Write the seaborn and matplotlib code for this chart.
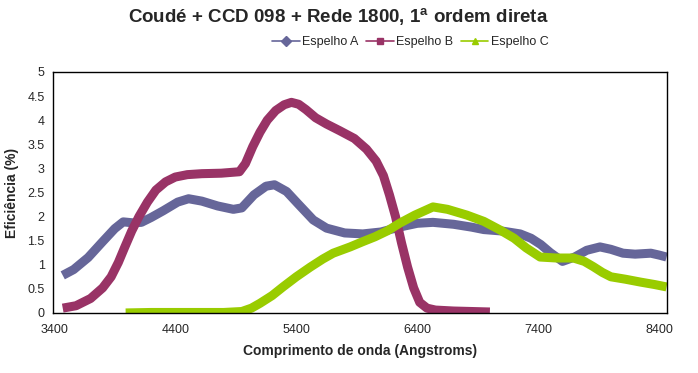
"""Grating efficiency curves: Coudé + CCD 098 + Rede 1800."""

import matplotlib.pyplot as plt
import pandas as pd
import seaborn as sns
from matplotlib.lines import Line2D

# Espelho A
wl_a = [3470, 3560, 3680, 3800, 3900, 3970, 4050, 4120, 4200, 4300, 4420, 4510,
        4620, 4750, 4880, 4950, 5050, 5150, 5220, 5320, 5420, 5540, 5650, 5800,
        5950, 6100, 6250, 6400, 6530, 6700, 6850, 6950, 7100, 7250, 7340, 7420,
        7500, 7600, 7700, 7800, 7910, 8000, 8100, 8200, 8330, 8400, 8460]
eff_a = [0.78, 0.90, 1.15, 1.48, 1.75, 1.89, 1.87, 1.88, 1.98, 2.12, 2.30, 2.37,
         2.32, 2.22, 2.15, 2.18, 2.45, 2.63, 2.66, 2.52, 2.25, 1.93, 1.76, 1.66,
         1.64, 1.68, 1.78, 1.86, 1.88, 1.84, 1.78, 1.73, 1.70, 1.64, 1.55, 1.42,
         1.25, 1.07, 1.16, 1.30, 1.37, 1.32, 1.24, 1.22, 1.24, 1.20, 1.16]

# Espelho B
wl_b = [3470, 3580, 3700, 3800, 3870, 3930, 3980, 4040, 4100, 4170, 4240, 4320,
        4400, 4500, 4620, 4780, 4930, 4980, 5040, 5100, 5160, 5230, 5300, 5360,
        5420, 5480, 5560, 5650, 5760, 5880, 5980, 6060, 6120, 6170, 6220, 6270,
        6320, 6370, 6420, 6480, 6550, 6700, 6850, 7000]
eff_b = [0.10, 0.15, 0.30, 0.52, 0.75, 1.05, 1.35, 1.70, 2.00, 2.30, 2.55, 2.72,
         2.82, 2.87, 2.89, 2.90, 2.93, 3.10, 3.45, 3.75, 4.00, 4.20, 4.32, 4.37,
         4.33, 4.22, 4.05, 3.92, 3.78, 3.62, 3.40, 3.15, 2.85, 2.45, 2.00, 1.45,
         0.95, 0.52, 0.22, 0.10, 0.06, 0.04, 0.03, 0.02]

# Espelho C
wl_c = [3990, 4200, 4500, 4800, 4950, 5030, 5100, 5200, 5290, 5400, 5515, 5620,
        5705, 5845, 5950, 6050, 6150, 6260, 6380, 6530, 6650, 6810, 6950, 7085,
        7200, 7300, 7415, 7550, 7690, 7780, 7855, 7930, 8000, 8120, 8245, 8360,
        8460]
eff_c = [0.00, 0.01, 0.01, 0.01, 0.03, 0.10, 0.20, 0.36, 0.54, 0.75, 0.95, 1.12,
         1.24, 1.37, 1.48, 1.58, 1.70, 1.87, 2.03, 2.20, 2.15, 2.03, 1.90, 1.72,
         1.55, 1.35, 1.16, 1.14, 1.14, 1.07, 0.96, 0.84, 0.75, 0.70, 0.64, 0.59,
         0.54]

names = ["Espelho A", "Espelho B", "Espelho C"]
colors = ["#666699", "#993366", "#99CC00"]
markers = ["D", "s", "^"]

df = pd.concat([
    pd.DataFrame({"wl": wl_a, "eff": eff_a, "serie": names[0]}),
    pd.DataFrame({"wl": wl_b, "eff": eff_b, "serie": names[1]}),
    pd.DataFrame({"wl": wl_c, "eff": eff_c, "serie": names[2]}),
])

sns.set_style("white")
plt.rcParams["font.family"] = ["Liberation Sans", "DejaVu Sans"]

fig = plt.figure(figsize=(6.98, 3.73), dpi=100)
ax = fig.add_axes([0.076, 0.161, 0.88, 0.646])

sns.lineplot(data=df, x="wl", y="eff", hue="serie", palette=colors,
             linewidth=6.5, sort=False, legend=False, ax=ax,
             solid_capstyle="butt", solid_joinstyle="round")

ax.set_xlim(3390, 8466)
ax.set_ylim(0, 5)
ax.set_xticks([3400, 4400, 5400, 6400, 7400, 8400])
ax.set_yticks([0, 0.5, 1, 1.5, 2, 2.5, 3, 3.5, 4, 4.5, 5])
ax.set_yticklabels(["0", "0.5", "1", "1.5", "2", "2.5", "3", "3.5", "4", "4.5", "5"])
ax.tick_params(axis="x", direction="in", length=4, width=0.8, labelsize=9, pad=8, color="black")
ax.tick_params(axis="y", length=0, labelsize=9, pad=6)
for sp in ax.spines.values():
    sp.set_color("black")
    sp.set_linewidth(1)

ax.set_xlabel("Comprimento de onda (Angstroms)", fontsize=10, fontweight="bold", labelpad=6)
ax.set_ylabel("Eficiência (%)", fontsize=10, fontweight="bold", labelpad=6)

fig.text(0.485, 0.953, "Coudé + CCD 098 + Rede 1800, 1$^{\\mathregular{a}}$ ordem direta",
         ha="center", va="center", fontsize=13.5, fontweight="bold")

handles = [Line2D([0], [0], color=c, marker=m, markersize=5, linewidth=1.2, label=n)
           for n, c, m in zip(names, colors, markers)]
fig.legend(handles=handles, loc="center", bbox_to_anchor=(0.588, 0.887), ncol=3,
           frameon=False, fontsize=9, handlelength=2.2, handletextpad=0.2,
           columnspacing=0.6, borderaxespad=0)

fig.savefig("out.png", dpi=100)
